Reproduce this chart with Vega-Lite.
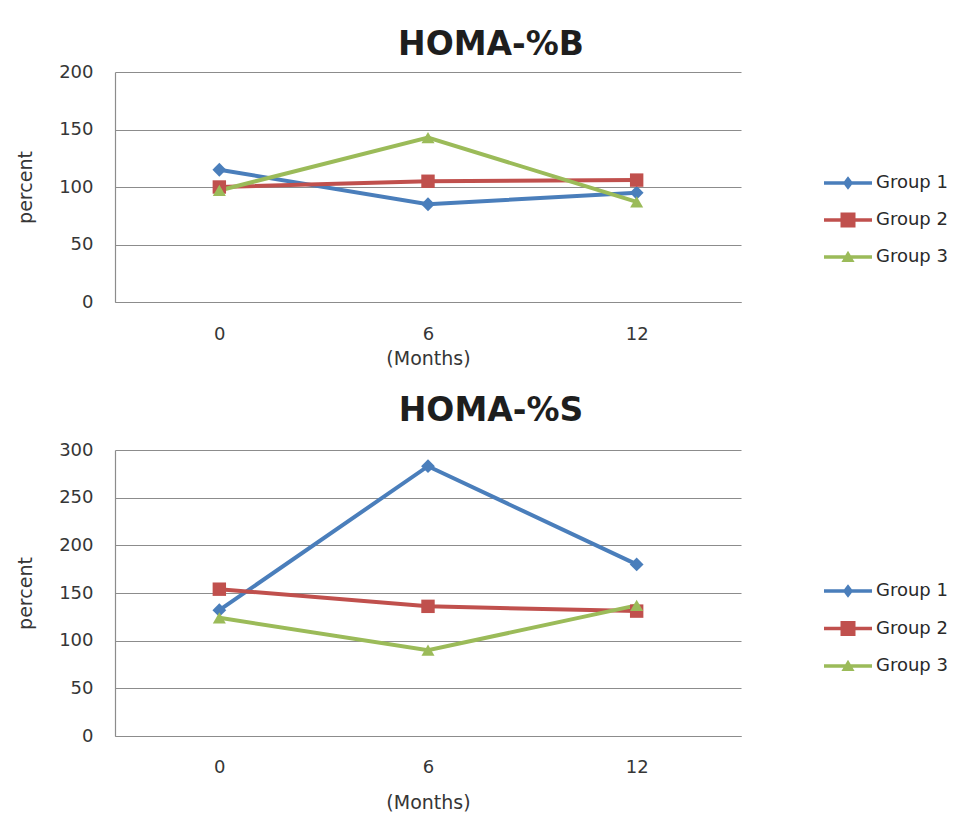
{
  "$schema": "https://vega.github.io/schema/vega-lite/v6.json",
  "background": "white",
  "padding": {"left": 16, "top": 29, "right": 5, "bottom": 3},
  "datasets": {
    "homaB": [
      {"month": 0, "group": "Group 1", "value": 115},
      {"month": 6, "group": "Group 1", "value": 85},
      {"month": 12, "group": "Group 1", "value": 95},
      {"month": 0, "group": "Group 2", "value": 100},
      {"month": 6, "group": "Group 2", "value": 105},
      {"month": 12, "group": "Group 2", "value": 106},
      {"month": 0, "group": "Group 3", "value": 97},
      {"month": 6, "group": "Group 3", "value": 143},
      {"month": 12, "group": "Group 3", "value": 87}
    ],
    "homaS": [
      {"month": 0, "group": "Group 1", "value": 132},
      {"month": 6, "group": "Group 1", "value": 283},
      {"month": 12, "group": "Group 1", "value": 180},
      {"month": 0, "group": "Group 2", "value": 154},
      {"month": 6, "group": "Group 2", "value": 136},
      {"month": 12, "group": "Group 2", "value": 131},
      {"month": 0, "group": "Group 3", "value": 124},
      {"month": 6, "group": "Group 3", "value": 90},
      {"month": 12, "group": "Group 3", "value": 137}
    ]
  },
  "config": {
    "font": "DejaVu Sans",
    "view": {"stroke": null},
    "axis": {
      "labelFont": "DejaVu Sans",
      "labelFontSize": 18,
      "labelColor": "#363636",
      "titleFont": "DejaVu Sans",
      "titleFontWeight": "normal",
      "titleFontSize": 19,
      "titleColor": "#363636",
      "ticks": false,
      "domainColor": "#8c8c8c",
      "domainWidth": 1.2,
      "gridColor": "#8c8c8c",
      "gridWidth": 1.2,
      "gridOpacity": 1
    },
    "title": {
      "font": "DejaVu Sans",
      "fontSize": 33,
      "fontWeight": "bold",
      "color": "#1e1e1e",
      "anchor": "middle",
      "dx": 63
    },
    "legend": {
      "title": null,
      "orient": "none",
      "symbolSize": 900,
      "labelOffset": 13,
      "labelFont": "DejaVu Sans",
      "labelFontSize": 18,
      "labelColor": "#2a2a2a",
      "symbolStrokeWidth": 0,
      "symbolOpacity": 1
    },
    "concat": {"spacing": 27}
  },
  "resolve": {
    "scale": {"y": "independent", "color": "independent"},
    "legend": {"color": "independent"}
  },
  "vconcat": [
    {
      "title": {"text": "HOMA-%B", "offset": 1},
      "width": 626,
      "height": 230,
      "data": {"name": "homaB"},
      "encoding": {
        "x": {
          "field": "month",
          "type": "ordinal",
          "scale": {"type": "point", "padding": 0.5},
          "axis": {"title": "(Months)", "labelAngle": 0, "labelPadding": 23, "titlePadding": 6, "domain": true, "grid": false}
        },
        "y": {
          "field": "value",
          "type": "quantitative",
          "scale": {"domain": [0, 200], "nice": false},
          "axis": {"title": "percent", "values": [0, 50, 100, 150, 200], "labelPadding": 22, "titlePadding": 23, "grid": true, "domain": true}
        },
        "color": {
          "field": "group",
          "type": "nominal",
          "scale": {"domain": ["Group 1", "Group 2", "Group 3"], "range": ["#4A7EBB", "#C0504D", "#9BBB59"]},
          "legend": {
            "legendX": 718,
            "legendY": 96,
            "rowPadding": 13,
            "encode": {
              "symbols": {
                "update": {
                  "shape": {"signal": "datum.value === 'Group 1' ? 'M-1.6,-0.11H-0.254L0,-0.45L0.254,-0.11H1.6V0.11H0.254L0,0.45L-0.254,0.11H-1.6Z' : datum.value === 'Group 2' ? 'M-1.6,-0.11H-0.5V-0.5H0.5V-0.11H1.6V0.11H0.5V0.5H-0.5V0.11H-1.6Z' : 'M-1.6,-0.11H-0.18L0,-0.42L0.18,-0.11H1.6V0.11H0.307L0.44,0.34H-0.44L-0.307,0.11H-1.6Z'"},
                  "fill": {"signal": "datum.value === 'Group 1' ? '#4A7EBB' : datum.value === 'Group 2' ? '#C0504D' : '#9BBB59'"},
                  "strokeWidth": {"value": 0},
                  "opacity": {"value": 1}
                }
              }
            }
          }
        }
      },
      "layer": [
        {"mark": {"type": "line", "strokeWidth": 4}},
        {
          "transform": [{"filter": "datum.group === 'Group 1'"}],
          "mark": {"type": "point", "shape": "diamond", "filled": true, "opacity": 1, "size": 190}
        },
        {
          "transform": [{"filter": "datum.group === 'Group 2'"}],
          "mark": {"type": "point", "shape": "square", "filled": true, "opacity": 1, "size": 180}
        },
        {
          "transform": [{"filter": "datum.group === 'Group 3'"}],
          "mark": {"type": "point", "shape": "triangle-up", "filled": true, "opacity": 1, "size": 170}
        }
      ]
    },
    {
      "title": {"text": "HOMA-%S", "offset": 13},
      "width": 626,
      "height": 286,
      "data": {"name": "homaS"},
      "encoding": {
        "x": {
          "field": "month",
          "type": "ordinal",
          "scale": {"type": "point", "padding": 0.5},
          "axis": {"title": "(Months)", "labelAngle": 0, "labelPadding": 22, "titlePadding": 17, "domain": true, "grid": false}
        },
        "y": {
          "field": "value",
          "type": "quantitative",
          "scale": {"domain": [0, 300], "nice": false},
          "axis": {"title": "percent", "values": [0, 50, 100, 150, 200, 250, 300], "labelPadding": 22, "titlePadding": 23, "grid": true, "domain": true}
        },
        "color": {
          "field": "group",
          "type": "nominal",
          "scale": {"domain": ["Group 1", "Group 2", "Group 3"], "range": ["#4A7EBB", "#C0504D", "#9BBB59"]},
          "legend": {
            "legendX": 718,
            "legendY": 126,
            "rowPadding": 13.5,
            "encode": {
              "symbols": {
                "update": {
                  "shape": {"signal": "datum.value === 'Group 1' ? 'M-1.6,-0.11H-0.254L0,-0.45L0.254,-0.11H1.6V0.11H0.254L0,0.45L-0.254,0.11H-1.6Z' : datum.value === 'Group 2' ? 'M-1.6,-0.11H-0.5V-0.5H0.5V-0.11H1.6V0.11H0.5V0.5H-0.5V0.11H-1.6Z' : 'M-1.6,-0.11H-0.18L0,-0.42L0.18,-0.11H1.6V0.11H0.307L0.44,0.34H-0.44L-0.307,0.11H-1.6Z'"},
                  "fill": {"signal": "datum.value === 'Group 1' ? '#4A7EBB' : datum.value === 'Group 2' ? '#C0504D' : '#9BBB59'"},
                  "strokeWidth": {"value": 0},
                  "opacity": {"value": 1}
                }
              }
            }
          }
        }
      },
      "layer": [
        {"mark": {"type": "line", "strokeWidth": 4}},
        {
          "transform": [{"filter": "datum.group === 'Group 1'"}],
          "mark": {"type": "point", "shape": "diamond", "filled": true, "opacity": 1, "size": 190}
        },
        {
          "transform": [{"filter": "datum.group === 'Group 2'"}],
          "mark": {"type": "point", "shape": "square", "filled": true, "opacity": 1, "size": 180}
        },
        {
          "transform": [{"filter": "datum.group === 'Group 3'"}],
          "mark": {"type": "point", "shape": "triangle-up", "filled": true, "opacity": 1, "size": 170}
        }
      ]
    }
  ]
}
